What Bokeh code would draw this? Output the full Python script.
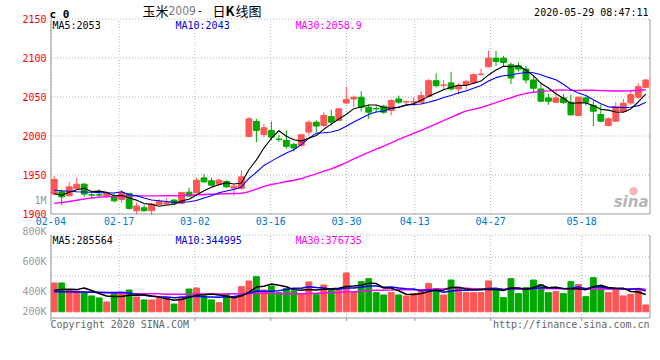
from bokeh.plotting import figure
from bokeh.models import Range1d, Label, ColumnDataSource
from bokeh.core.properties import value
from bokeh.embed import file_html
from bokeh.resources import INLINE

# ---------------- data ----------------
dates = ["02-04", "02-05", "02-06", "02-07", "02-10", "02-11", "02-12", "02-13", "02-14", "02-17",
         "02-18", "02-19", "02-20", "02-21", "02-24", "02-25", "02-26", "02-27", "02-28",
         "03-02", "03-03", "03-04", "03-05", "03-06", "03-09", "03-10", "03-11", "03-12", "03-13",
         "03-16", "03-17", "03-18", "03-19", "03-20", "03-23", "03-24", "03-25", "03-26", "03-27",
         "03-30", "03-31", "04-01", "04-02", "04-03", "04-07", "04-08", "04-09", "04-10",
         "04-13", "04-14", "04-15", "04-16", "04-17", "04-20", "04-21", "04-22", "04-23", "04-24",
         "04-27", "04-28", "04-29", "04-30", "05-06", "05-07", "05-08", "05-11", "05-12", "05-13",
         "05-14", "05-15", "05-18", "05-19", "05-20", "05-21", "05-22", "05-25", "05-26", "05-27",
         "05-28", "05-29"]

opens = [1925.5, 1928.5, 1923.4, 1932.7, 1938.2, 1924.6, 1924.6, 1923.0, 1923.0, 1918.7,
         1926.4, 1904.2, 1908.0, 1904.2, 1912.3, 1913.0, 1917.8, 1913.6, 1928.0, 1927.2,
         1946.3, 1942.5, 1938.2, 1941.6, 1933.0, 1932.7, 1999.5, 2018.6, 2002.0, 2007.0,
         1996.0, 1994.4, 1989.3, 1988.0, 2005.0, 2017.7, 2013.5, 2025.0, 2019.9, 2042.4,
         2047.5, 2049.7, 2036.9, 2035.2, 2038.2, 2032.6, 2047.5, 2043.6, 2043.6, 2043.3,
         2050.9, 2070.9, 2065.0, 2068.0, 2060.3, 2065.8, 2068.0, 2079.0, 2088.8, 2099.8,
         2099.8, 2091.3, 2090.0, 2085.8, 2071.8, 2060.3, 2048.8, 2043.3, 2048.8, 2043.3,
         2026.3, 2048.8, 2039.0, 2027.5, 2013.5, 2019.0, 2031.4, 2042.4, 2049.7, 2062.4]
closes = [1944.2, 1922.0, 1934.8, 1938.2, 1925.5, 1924.2, 1924.2, 1926.4, 1917.0, 1928.0,
          1907.2, 1910.2, 1904.2, 1912.7, 1915.7, 1914.5, 1913.6, 1927.6, 1923.0, 1943.4,
          1941.2, 1937.0, 1943.4, 1934.8, 1935.7, 1947.6, 2022.0, 2007.0, 2010.5, 1998.6,
          1995.6, 1986.7, 1984.6, 2001.6, 2017.7, 2012.7, 2026.3, 2017.7, 2034.8, 2046.7,
          2049.7, 2036.9, 2030.5, 2034.8, 2030.5, 2045.4, 2043.3, 2044.0, 2044.0, 2051.8,
          2070.9, 2064.5, 2065.4, 2060.3, 2063.7, 2070.0, 2078.6, 2079.4, 2099.8, 2095.6,
          2094.3, 2074.3, 2085.8, 2071.8, 2061.1, 2044.6, 2044.6, 2048.8, 2042.8, 2027.1,
          2049.7, 2043.3, 2031.8, 2019.0, 2022.0, 2037.8, 2042.0, 2053.0, 2063.3, 2071.8]
highs = [1948.5, 1931.5, 1941.2, 1946.3, 1940.0, 1928.5, 1931.8, 1928.5, 1926.4, 1930.6,
         1927.2, 1914.8, 1911.5, 1914.4, 1919.0, 1920.4, 1919.5, 1928.5, 1933.6, 1946.3,
         1951.0, 1946.3, 1945.5, 1943.4, 1938.2, 1956.0, 2024.0, 2022.0, 2015.6, 2018.6,
         2001.6, 2007.0, 1991.0, 2003.0, 2020.0, 2020.0, 2030.5, 2033.5, 2035.6, 2063.3,
         2051.8, 2057.3, 2040.3, 2039.0, 2040.0, 2047.5, 2051.8, 2045.4, 2049.7, 2057.3,
         2073.0, 2080.3, 2071.8, 2082.4, 2067.5, 2071.8, 2080.3, 2086.6, 2109.2, 2109.2,
         2102.8, 2094.3, 2094.3, 2090.0, 2077.3, 2067.5, 2053.9, 2058.1, 2053.9, 2053.0,
         2050.5, 2050.5, 2045.4, 2040.3, 2024.1, 2043.3, 2047.5, 2059.0, 2067.5, 2073.0]
lows = [1924.0, 1911.5, 1922.5, 1932.0, 1922.0, 1920.0, 1920.0, 1921.2, 1914.8, 1914.4,
        1905.9, 1900.0, 1903.0, 1898.7, 1911.5, 1911.5, 1911.5, 1912.7, 1922.0, 1926.4,
        1940.0, 1936.2, 1936.2, 1933.6, 1923.4, 1931.0, 1998.6, 1992.0, 1998.6, 1994.4,
        1992.0, 1983.7, 1980.3, 1986.7, 2000.7, 2005.0, 2011.4, 2013.5, 2019.0, 2041.2,
        2036.9, 2031.4, 2022.0, 2030.5, 2028.4, 2026.3, 2041.2, 2039.0, 2039.0, 2041.2,
        2049.7, 2062.4, 2059.0, 2058.1, 2053.0, 2058.1, 2066.7, 2077.3, 2087.9, 2090.0,
        2090.0, 2066.7, 2082.8, 2067.5, 2054.7, 2044.2, 2039.9, 2042.0, 2041.2, 2026.3,
        2025.0, 2039.0, 2012.7, 2017.8, 2012.2, 2017.8, 2030.5, 2040.0, 2047.5, 2061.5]
volumes_k = [478, 478, 362, 346, 312, 263, 230, 163, 307, 301,
             362, 246, 197, 197, 218, 224, 129, 246, 378, 395,
             263, 197, 152, 296, 246, 418, 511, 583, 362, 428,
             318, 385, 346, 301, 495, 290, 445, 373, 356, 644,
             329, 500, 549, 318, 279, 318, 279, 263, 301, 362,
             467, 385, 279, 527, 385, 318, 318, 318, 511, 385,
             235, 549, 301, 401, 527, 451, 318, 335, 301, 500,
             451, 251, 566, 428, 318, 385, 263, 290, 389, 113]

# moving-average values before enough in-chart history exists
ma5_head = [1926.0, 1924.0, 1928.0, 1931.0]
ma10_head = [1930.5, 1929.8, 1929.2, 1928.6, 1928.2, 1927.8, 1927.4, 1927.2, 1927.0]
ma30_head = [1913.6, 1914.8, 1916.0, 1917.6, 1919.2, 1920.6, 1921.6, 1922.2, 1922.6, 1922.8,
             1923.0, 1923.2, 1923.2, 1923.3, 1923.3, 1923.4, 1923.4, 1923.5, 1924.0, 1924.6,
             1925.0, 1925.3, 1925.6, 1925.9, 1926.2, 1926.5, 1928.6, 1932.0, 1935.4]
vma5_head = [356, 368, 373, 368]
vma10_head = [333, 331, 331, 329, 329, 326, 324, 321, 319]
vma30_head = [333, 333, 331, 329, 327, 326, 321, 317, 312, 307,
              302, 300, 299, 298, 298, 293, 293, 293, 293, 295,
              295, 295, 295, 297, 299, 300, 302, 304, 307]

tick_labels = ["02-04", "02-17", "03-02", "03-16", "03-30", "04-13", "04-27", "05-18"]
price_ticks = [1900, 1950, 2000, 2050, 2100, 2150]
vol_tick_labels = ["800K", "600K", "400K", "200K"]

header_ma = ["MA5:2053", "MA10:2043", "MA30:2058.9"]
header_vma = ["MA5:285564", "MA10:344995", "MA30:376735"]

# ---------------- derived ----------------
n = len(dates)
idx = list(range(n))


def rolling(vals, k, head):
    out = list(head)
    for i in range(len(head), len(vals)):
        out.append(sum(vals[i - k + 1:i + 1]) / k)
    return out


volumes = [v * 1000 for v in volumes_k]
ma5 = rolling(closes, 5, ma5_head)
ma10 = rolling(closes, 10, ma10_head)
ma30 = rolling(closes, 30, ma30_head)
vma5 = [v * 1000 for v in rolling(volumes_k, 5, vma5_head)]
vma10 = [v * 1000 for v in rolling(volumes_k, 10, vma10_head)]
vma30 = [v * 1000 for v in rolling(volumes_k, 30, vma30_head)]

RED = "#ff5555"
GREEN = "#00a800"
colors = [RED if c >= o else GREEN for o, c in zip(opens, closes)]
tops = [max(o, c) for o, c in zip(opens, closes)]
bottoms = [min(o, c) for o, c in zip(opens, closes)]

src = ColumnDataSource(dict(x=idx, high=highs, low=lows, top=tops, bottom=bottoms,
                            color=colors, vol=volumes))

tick_pos = [round(dates.index(d) * 80 / 79 - 0.45, 3) for d in tick_labels]

MONO = "DejaVu Sans Mono"
CJK = "Noto Sans CJK SC"
NARROW = "Liberation Sans Narrow, DejaVu Sans Condensed, Liberation Sans"
GRID = "#b4b4b4"
BORDER = "#999999"

# ---------------- geometry (page pixels) ----------------
W, H = 660, 340
X0, X1 = -0.5, 79.5          # slot range across the panels
FXL, FXR = 50, 649           # panel left / right pixel columns
Y0, Y1 = 1900, 2150
PT, PB = 18.5, 213.5         # price panel top / bottom (pixel centres)
V0, V1 = -103000, 1274000
VT, VB = 234.5, 317.5        # volume panel top / bottom
VPX = (V1 - V0) / (VB - VT)


def xd(xs):
    return X0 + (xs - FXL) * (X1 - X0) / (FXR - FXL)


def yd(ys):
    return Y1 - (ys - PT) * (Y1 - Y0) / (PB - PT)


def vy(ys):
    return V1 - (ys - VT) * VPX


p = figure(frame_width=W, frame_height=H, x_range=Range1d(xd(0), xd(W)),
           y_range=Range1d(yd(H), yd(0)), output_backend="svg", toolbar_location=None,
           x_axis_location=None, y_axis_location=None, min_border=0,
           min_border_left=0, min_border_right=0, min_border_top=0, min_border_bottom=0,
           outline_line_color=None, background_fill_color="white", border_fill_color="white")
p.extra_y_ranges = {"vol": Range1d(vy(H), vy(0))}
p.grid.visible = False

XL, XR = xd(FXL + 0.5), xd(FXR + 0.5)   # crisp border columns
k = len(tick_pos)

# ---- price panel frame & grid ----
hg = price_ticks[1:]
p.segment(x0=[XL] * len(hg), y0=hg, x1=[XR] * len(hg), y1=hg,
          line_color=GRID, line_dash="1 2", line_width=1)
p.segment(x0=tick_pos, y0=[Y0] * k, x1=tick_pos, y1=[Y1] * k,
          line_color=GRID, line_dash="1 2", line_width=1)
p.segment(x0=[XL, XR, XL], y0=[Y0, Y0, Y0], x1=[XL, XR, XR], y1=[Y1, Y1, Y0],
          line_color=BORDER, line_width=1)

# ---- volume panel frame & grid ----
vg = [vy(256.5), vy(275.5), V1]
p.segment(x0=[XL] * 3, y0=vg, x1=[XR] * 3, y1=vg, line_color=GRID, line_dash="1 2",
          line_width=1, y_range_name="vol")
p.segment(x0=tick_pos, y0=[V0] * k, x1=tick_pos, y1=[V1] * k,
          line_color=GRID, line_dash="1 2", line_width=1, y_range_name="vol")
p.segment(x0=[XL, XR, XL], y0=[V0, V0, V0], x1=[XL, XR, XR], y1=[V1, V1, V0],
          line_color=BORDER, line_width=1, y_range_name="vol")
p.segment(x0=tick_pos, y0=[V0] * k, x1=tick_pos, y1=[vy(VB + 3)] * k,
          line_color=BORDER, line_width=1, y_range_name="vol")

# ---- candles ----
p.segment(x0="x", y0="low", x1="x", y1="high", line_color="color", line_width=1, source=src)
p.vbar(x="x", width=0.78, top="top", bottom="bottom", fill_color="color", line_color="color",
       line_width=1, source=src)
p.line(idx, ma30, line_color="#ff00ff", line_width=1.4)
p.line(idx, ma10, line_color="#0000ff", line_width=1.1)
p.line(idx, ma5, line_color="#000000", line_width=1.1)

# ---- volume ----
p.vbar(x="x", width=0.78, top="vol", bottom=0, fill_color="color", line_color="color",
       line_width=1, source=src, y_range_name="vol")
p.line(idx, vma30, line_color="#ff00ff", line_width=1.5, y_range_name="vol")
p.line(idx, vma10, line_color="#0000ff", line_width=1.5, y_range_name="vol")
p.line(idx, vma5, line_color="#000000", line_width=1.5, y_range_name="vol")

# ---- tick labels ----
p.text(x=[xd(46)] * len(price_ticks), y=price_ticks, text=[str(t) for t in price_ticks],
       text_color="#ff0000", text_font=value(MONO), text_font_size="10px",
       text_align="right", text_baseline="middle")
p.text(x=tick_pos, y=[yd(216.5)] * k, text=tick_labels, text_color="#0078d7",
       text_font=value(MONO), text_font_size="10px", text_align="center", text_baseline="top")
p.text(x=[xd(46)] * 4, y=[vy(230.7), vy(260.7), vy(290.7), vy(310.7)], text=vol_tick_labels,
       text_color="#9a9a9a", text_font=value(MONO), text_font_size="10px",
       text_align="right", text_baseline="middle", y_range_name="vol")


def lab(text, xs, ys, color="#000000", size="10px", font=MONO, align="left",
        baseline="top", style="normal", alpha=1.0):
    p.add_layout(Label(x=xd(xs), y=yd(ys), text=text, text_color=color, text_font_size=size,
                       text_font=font, text_align=align, text_baseline=baseline,
                       text_font_style=style, text_alpha=alpha))


# header
lab("c 0", 49, 7, size="11px", style="bold")
lab("玉米", 142, 9.5, size="13px", font=CJK, baseline="middle")
lab("2009", 168, 9.5, color="#777777", size="12px", font=NARROW, baseline="middle")
lab("-", 196, 9.5, size="11px", font=MONO, baseline="middle")
lab("日", 212, 9.5, size="13px", font=CJK, baseline="middle")
lab("K", 225, 9.5, size="13px", font=CJK, style="bold", baseline="middle")
lab("线图", 235, 9.5, size="13px", font=CJK, baseline="middle")
lab("2020-05-29 08:47:11", 648, 6, align="right")

lab(header_ma[0], 52, 19)
lab(header_ma[1], 175, 19, color="#0000dd")
lab(header_ma[2], 295, 19, color="#ff00ff")
lab("1M", 46, 200, color="#999999", align="right", baseline="middle")

# watermark
lab("●", 633, 190, color="#f3a3a3", size="11px", font="DejaVu Sans",
    align="center", baseline="middle", alpha=0.8)
lab("sina", 648, 201, color="#a8a8a8", size="15px", font="DejaVu Sans",
    align="right", baseline="middle", style="bold italic", alpha=0.85)

# volume header & footer
lab(header_vma[0], 52, 234.5)
lab(header_vma[1], 175, 234.5, color="#0000dd")
lab(header_vma[2], 295, 234.5, color="#ff00ff")
lab("Copyright 2020 SINA.COM", 50, 318, color="#666666")
lab("http://finance.sina.com.cn", 649, 318, color="#666666", align="right")

open("out.html", "w").write(file_html(p, INLINE))
